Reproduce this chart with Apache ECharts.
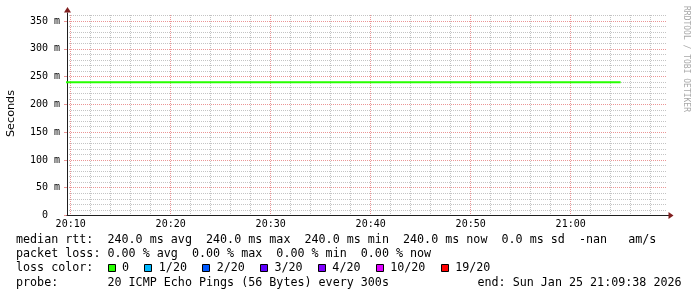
<!DOCTYPE html>
<html><head><meta charset="utf-8">
<script src="https://cdn.jsdelivr.net/npm/echarts@6/dist/echarts.min.js"></script>
<style>html,body{margin:0;padding:0;background:#fff}#c{width:697px;height:297px}</style>
</head><body><div id="c"></div>
<script>
// ---- data ----
const times = ['20:05','20:10','20:15','20:20','20:25','20:30','20:35','20:40','20:45','20:50','20:55','21:00','21:05'];
const medianRttMs = [240,240,240,240,240,240,240,240,240,240,240,240,240];
const lossPercent = [0,0,0,0,0,0,0,0,0,0,0,0,0];
const yTickValues = [0,50,100,150,200,250,300,350];
const xTickLabels = ['20:10','20:20','20:30','20:40','20:50','21:00'];
const lossLabels = ['0','1/20','2/20','3/20','4/20','10/20','19/20'];
const lossColors = ['#26ff00','#00b8ff','#0059ff','#5e00ff','#7e00ff','#dd00ff','#ff0000'];
const startTime = '20:09:38';
const endTime = '21:09:38';
const endStamp = 'Sun Jan 25 21:09:38 2026';
const probeText = '20 ICMP Echo Pings (56 Bytes) every 300s';
const yAxisTitle = 'Seconds';
const watermark = 'RRDTOOL / TOBI OETIKER';

// ---- helpers ----
const toSec = s => { const p = s.split(':').map(Number); return p[0]*3600 + p[1]*60 + (p[2]||0); };
const fmtHM = v => { const h = Math.floor(v/3600), m = Math.floor((v%3600)/60); return String(h).padStart(2,'0') + ':' + String(m).padStart(2,'0'); };
const startSec = toSec(startTime), endSec = toSec(endTime);
const yTop = 360;                                   // value at top of canvas
const yMajorMax = yTickValues[yTickValues.length - 1];
const majorStep = yTickValues[1] - yTickValues[0];
const minorSplit = 5;
const xMajor = 600;
const W = 697, H = 297;
const pxPerSec = 600 / (endSec - startSec);
const gridLeft = 67, canvasTop = 15.5, gridBottom = 81.5;
const pxPerUnit = (H - gridBottom - canvasTop) / yTop;
const gridTopA = canvasTop + (yTop - yMajorMax) * pxPerUnit;
const gridRight = W - (gridLeft + (endSec - startSec) * pxPerSec);
const xbMin = toSec(xTickLabels[0]);
const xbMax = Math.ceil(endSec / xMajor) * xMajor;
const gridBLeft = gridLeft + (xbMin - startSec) * pxPerSec;
const gridBRight = W - (gridBLeft + (xbMax - xbMin) * pxPerSec);

const MAJOR = '#eb9595';
const MINOR = '#c4c4c4';
const AXIS = '#1f1f1f';
const mono = 'DejaVu Sans Mono';

const seriesData = times.map((t, i) => [toSec(t), medianRttMs[i]]);
const lossIdx = 0;

// stats
const n = medianRttMs.length;
const avg = medianRttMs.reduce((a,b)=>a+b,0)/n;
const mx = Math.max(...medianRttMs), mn = Math.min(...medianRttMs), now = medianRttMs[n-1];
const sd = Math.sqrt(medianRttMs.reduce((a,b)=>a+(b-avg)*(b-avg),0)/n);
const lavg = lossPercent.reduce((a,b)=>a+b,0)/n;
const lmx = Math.max(...lossPercent), lmn = Math.min(...lossPercent), lnow = lossPercent[n-1];

const row1 = 'median rtt:  ' + avg.toFixed(1) + ' ms avg  ' + mx.toFixed(1) + ' ms max  ' + mn.toFixed(1) + ' ms min  ' + now.toFixed(1) + ' ms now  ' + sd.toFixed(1) + ' ms sd  -nan   am/s';
const row2 = 'packet loss: ' + lavg.toFixed(2) + ' % avg  ' + lmx.toFixed(2) + ' % max  ' + lmn.toFixed(2) + ' % min  ' + lnow.toFixed(2) + ' % now';
const row3 = 'loss color:';
const row4 = 'probe:       ' + probeText;

const chart = echarts.init(document.getElementById('c'), null, {renderer: 'canvas'});
const option = {
  animation: false,
  backgroundColor: '#ffffff',
  grid: [
    {left: gridLeft, right: gridRight, top: gridTopA, bottom: gridBottom, containLabel: false, outerBoundsMode: 'none'},
    {left: gridBLeft, right: gridBRight, top: Math.floor(canvasTop), bottom: Math.ceil(gridBottom), containLabel: false, outerBoundsMode: 'none'},
    {left: gridLeft, right: gridRight, top: canvasTop, bottom: gridBottom, containLabel: false, outerBoundsMode: 'none'}
  ],
  xAxis: [
    {gridIndex: 0, type: 'value', min: startSec, max: endSec, position: 'bottom', z: 3,
     axisLine: {show: true, onZero: false, lineStyle: {color: AXIS, width: 1}},
     axisTick: {show: false}, axisLabel: {show: false}, splitLine: {show: false}},
    {gridIndex: 1, type: 'value', min: xbMin, max: xbMax, interval: xMajor, position: 'bottom', z: 1,
     axisLine: {show: false}, axisTick: {show: false},
     axisLabel: {show: true, margin: 4.5, fontFamily: mono, fontSize: 10, color: '#000', showMaxLabel: false,
       formatter: v => { const s = fmtHM(v); return xTickLabels.indexOf(s) >= 0 ? s : ''; }},
     splitLine: {show: true, showMaxLine: false, lineStyle: {color: MAJOR, width: 1, type: [1,1]}},
     minorTick: {show: false, splitNumber: minorSplit},
     minorSplitLine: {show: true, lineStyle: {color: MINOR, width: 1, type: [1,1]}}},
    {gridIndex: 2, type: 'value', min: startSec, max: endSec, show: false}
  ],
  yAxis: [
    {gridIndex: 0, type: 'value', min: 0, max: yMajorMax, interval: majorStep, z: 2, position: 'left',
     axisLine: {show: true, onZero: false, lineStyle: {color: AXIS, width: 1}},
     axisTick: {show: true, length: 3, lineStyle: {color: MAJOR}},
     axisLabel: {show: true, margin: 7, fontFamily: mono, fontSize: 10, color: '#000',
       formatter: v => yTickValues.indexOf(v) < 0 ? '' : (v === 0 ? '0  ' : v + ' m')},
     splitLine: {show: true, lineStyle: {color: MAJOR, width: 1, type: [1,1]}},
     minorTick: {show: false, splitNumber: minorSplit},
     minorSplitLine: {show: true, lineStyle: {color: MINOR, width: 1, type: [1,1]}}},
    {gridIndex: 1, type: 'value', min: 0, max: yTop, show: false},
    {gridIndex: 2, type: 'value', min: 0, max: yTop, interval: yTop, z: 0,
     axisLine: {show: false}, axisTick: {show: false}, axisLabel: {show: false},
     splitLine: {show: true, showMinLine: false, lineStyle: {color: MINOR, width: 1, type: [1,1]}}}
  ],
  series: [{
    type: 'line', xAxisIndex: 0, yAxisIndex: 0, data: seriesData,
    symbol: 'none', clip: true, z: 5,
    lineStyle: {color: lossColors[lossIdx], width: 2}
  }]
};
chart.setOption(option);

// decorations computed from axes
const o = chart.convertToPixel({xAxisIndex: 0, yAxisIndex: 0}, [startSec, 0]);
const t = chart.convertToPixel({xAxisIndex: 2, yAxisIndex: 2}, [startSec, yTop]);
const tA = chart.convertToPixel({xAxisIndex: 0, yAxisIndex: 0}, [startSec, yMajorMax]);
const r = chart.convertToPixel({xAxisIndex: 0, yAxisIndex: 0}, [endSec, 0]);
const xc = Math.round(o[0]) + 0.5, yc = Math.round(o[1]) - 0.5;
const ARROW = '#801f1f';
const cw = 11.7 * 0.6021;
const textX = 16;
const rowY = [240.2, 254.3, 268.4, 282.6];
const tstyle = {fontFamily: mono, fontSize: 11.7, fill: '#000', verticalAlign: 'middle', align: 'left'};

const graphics = [
  {type: 'line', shape: {x1: xc, y1: tA[1], x2: xc, y2: t[1] - 3}, style: {stroke: AXIS, lineWidth: 1}},
  {type: 'polygon', shape: {points: [[xc - 3.5, t[1] - 3], [xc + 3.5, t[1] - 3], [xc, t[1] - 8.5]]}, style: {fill: ARROW}},
  {type: 'line', shape: {x1: r[0], y1: yc, x2: r[0] + 2, y2: yc}, style: {stroke: AXIS, lineWidth: 1}},
  {type: 'polygon', shape: {points: [[r[0] + 1.5, yc - 3.5], [r[0] + 1.5, yc + 3.5], [r[0] + 6.5, yc]]}, style: {fill: ARROW}},
  {type: 'text', x: 11, y: (o[1] + t[1]) / 2 - 2, rotation: Math.PI / 2,
   style: {text: yAxisTitle, fontFamily: 'DejaVu Sans', fontSize: 11.2, fill: '#000', align: 'center', verticalAlign: 'middle'}},
  {type: 'text', x: 686, y: 59, rotation: -Math.PI / 2,
   style: {text: watermark, fontFamily: mono, fontSize: 8, fill: '#a8a8a8', align: 'center', verticalAlign: 'middle'}},
  {type: 'text', x: textX, y: rowY[0], style: Object.assign({text: row1}, tstyle)},
  {type: 'text', x: textX, y: rowY[1], style: Object.assign({text: row2}, tstyle)},
  {type: 'text', x: textX, y: rowY[2], style: Object.assign({text: row3}, tstyle)},
  {type: 'text', x: textX, y: rowY[3], style: Object.assign({text: row4}, tstyle)},
  {type: 'text', x: 477.5, y: rowY[3], style: Object.assign({text: 'end: ' + endStamp}, tstyle)}
];
let sx = textX + 13 * cw;
lossLabels.forEach((lab, i) => {
  graphics.push({type: 'rect', shape: {x: Math.round(sx) + 0.5, y: 264.5, width: 7, height: 7},
    style: {fill: lossColors[i], stroke: '#000', lineWidth: 1}});
  graphics.push({type: 'text', x: sx + 14.5, y: rowY[2], style: Object.assign({text: lab}, tstyle)});
  sx += (lab.length + 4) * cw + 1.5;
});
chart.setOption({graphic: graphics});
</script>
</body></html>
